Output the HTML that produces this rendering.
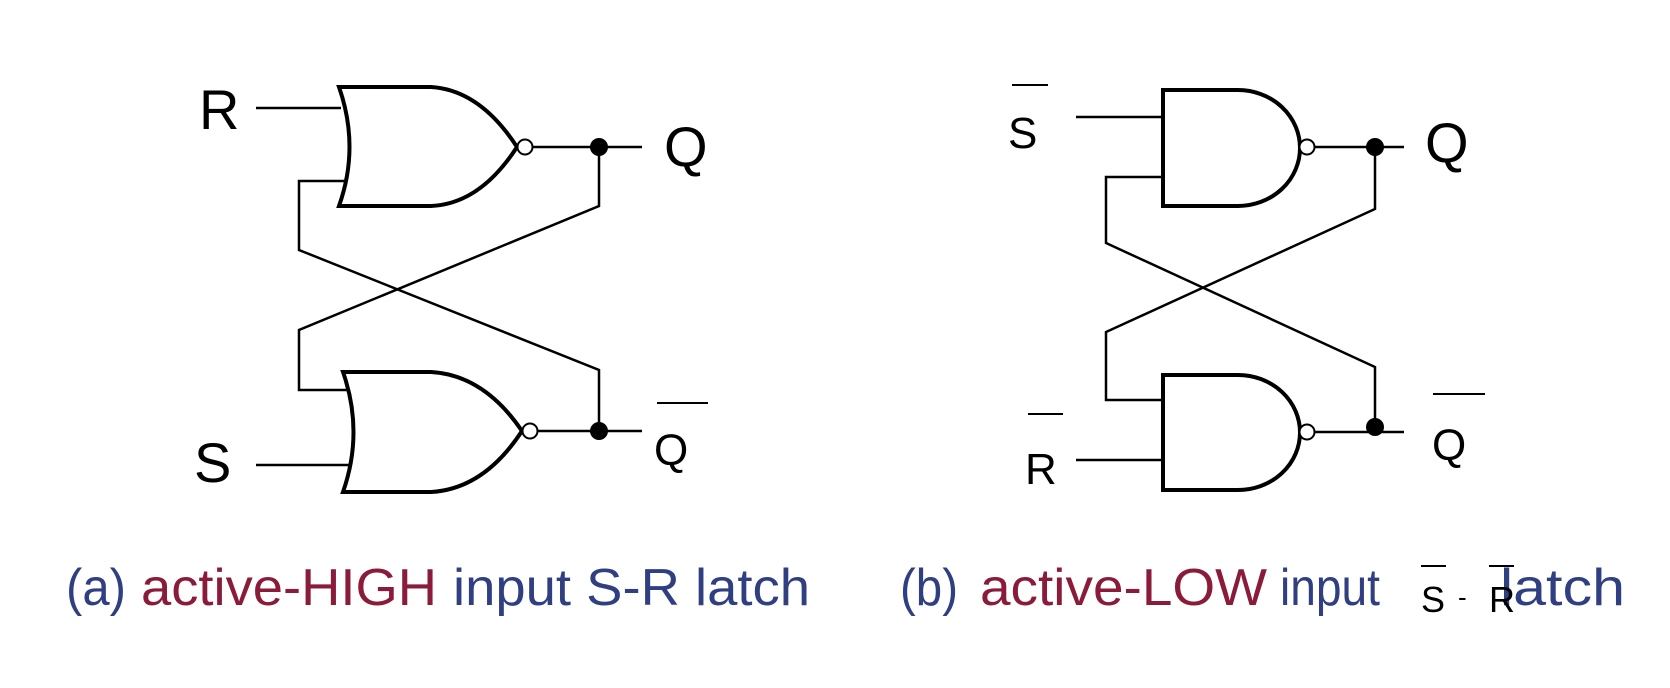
<!DOCTYPE html>
<html><head><meta charset="utf-8"><style>html,body{margin:0;padding:0;background:#fff}svg{display:block}</style></head>
<body>
<svg width="1670" height="688" viewBox="0 0 1670 688" xmlns="http://www.w3.org/2000/svg" font-family="Liberation Sans, sans-serif">
<rect width="1670" height="688" fill="#fff"/>
<g fill="none" stroke="#000" stroke-width="2.5">
 <!-- left wires -->
 <line x1="256" y1="108" x2="341" y2="108"/>
 <polyline points="345,181 299,181 299,250 599,370 599,431"/>
 <polyline points="599,147 599,206 299,330 299,390 347,390"/>
 <line x1="256" y1="465" x2="350" y2="465"/>
 <line x1="532" y1="147" x2="642" y2="147"/>
 <line x1="537" y1="431" x2="642" y2="431"/>
 <!-- right wires -->
 <line x1="1076" y1="117" x2="1163" y2="117"/>
 <polyline points="1163,177 1106,177 1106,243 1375,367 1375,427"/>
 <polyline points="1375,147 1375,209 1106,332 1106,400 1163,400"/>
 <line x1="1076" y1="460" x2="1163" y2="460"/>
 <line x1="1314" y1="147" x2="1404" y2="147"/>
 <line x1="1314" y1="432" x2="1404" y2="432"/>
</g>
<g fill="#fff" stroke="#000" stroke-width="4">
 <!-- NOR top -->
 <path d="M339,87 L431,87 Q480,90 517,147 Q480,204 431,206 L339,206 Q360,147 339,87 Z"/>
 <!-- NOR bottom -->
 <path d="M343,372 L431,372 Q484,375 522,431 Q484,489 431,492 L343,492 Q364,432 343,372 Z"/>
 <!-- NAND top -->
 <path d="M1163,90 L1238,90 A62,58 0 0 1 1238,206 L1163,206 Z"/>
 <!-- NAND bottom -->
 <path d="M1163,375 L1238,375 A62,57.5 0 0 1 1238,490 L1163,490 Z"/>
</g>
<g fill="#fff" stroke="#000" stroke-width="2">
 <circle cx="525" cy="147" r="7.5"/>
 <circle cx="530" cy="431" r="7.5"/>
 <circle cx="1307" cy="147" r="7.5"/>
 <circle cx="1307" cy="432" r="7.5"/>
</g>
<g fill="#000">
 <circle cx="599" cy="147" r="9"/>
 <circle cx="599" cy="431" r="9"/>
 <circle cx="1375" cy="147" r="9"/>
 <circle cx="1375" cy="427" r="9"/>
</g>
<g font-size="56" fill="#000">
 <text x="199" y="129">R</text>
 <text x="194" y="482">S</text>
 <text x="664" y="166">Q</text>
 <text x="1425" y="162">Q</text>
</g>
<g font-size="44" fill="#000">
 <text x="654" y="465">Q</text>
 <text x="1008" y="148">S</text>
 <text x="1025" y="484">R</text>
 <text x="1432" y="460">Q</text>
</g>
<g stroke="#000" stroke-width="2">
 <line x1="657" y1="403" x2="708" y2="403"/>
 <line x1="1012" y1="85" x2="1048" y2="85"/>
 <line x1="1028" y1="414" x2="1063" y2="414"/>
 <line x1="1433" y1="394" x2="1485" y2="394"/>
</g>
<!-- captions -->
<g font-size="52">
 <text x="66" y="605" fill="#2f3f82" textLength="60" lengthAdjust="spacingAndGlyphs">(a)</text>
 <text x="141" y="605" fill="#8a1c3a" textLength="296" lengthAdjust="spacingAndGlyphs">active‑HIGH</text>
 <text x="453" y="605" fill="#2f3f82" textLength="357" lengthAdjust="spacingAndGlyphs">input S‑R latch</text>
 <text x="900" y="605" fill="#2f3f82" textLength="58" lengthAdjust="spacingAndGlyphs">(b)</text>
 <text x="980" y="605" fill="#8a1c3a" textLength="287" lengthAdjust="spacingAndGlyphs">active‑LOW</text>
 <text x="1280" y="605" fill="#2f3f82" textLength="100" lengthAdjust="spacingAndGlyphs">input</text>
 <text x="1500" y="605" fill="#2f3f82" textLength="125" lengthAdjust="spacingAndGlyphs">latch</text>
</g>
<g font-size="36" fill="#000">
 <text x="1421" y="612">S</text>
 <text x="1458" y="606" font-size="26">-</text>
 <text x="1489" y="612">R</text>
</g>
<g stroke="#000" stroke-width="2">
 <line x1="1421" y1="566" x2="1446" y2="566"/>
 <line x1="1489" y1="566" x2="1514" y2="566"/>
</g>
</svg>
</body></html>
